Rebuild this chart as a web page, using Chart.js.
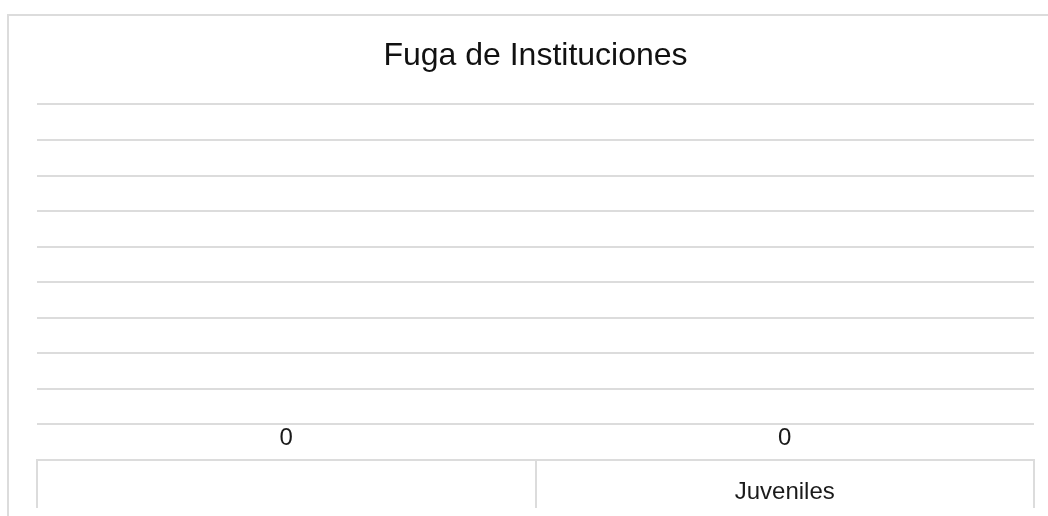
<!DOCTYPE html>
<html lang="es">
<head>
<meta charset="UTF-8">
<script src="https://cdn.jsdelivr.net/npm/chart.js"></script>
<title>Fuga de Instituciones</title>
<style>
  body { margin: 0; background: #fff; }
  .marco {
    position: absolute; left: 7px; top: 14px;
    width: 1100px; height: 600px;
    border: 2px solid #dcdcdc;
  }
  .lienzo { position: absolute; left: 0; top: 0; width: 1048px; height: 516px; }
</style>
</head>
<body>
<div class="marco"></div>
<div class="lienzo"><canvas id="fuga"></canvas></div>

<script>
const categorias = ['', 'Juveniles'];
const valores = [0, 0];
const titulo = 'Fuga de Instituciones';

const colorLinea = '#dcdcdc';
const fuente = '"Liberation Sans", Arial, sans-serif';

// etiqueta de valor debajo de cada barra
const etiquetas = {
  id: 'etiquetas',
  afterDatasetsDraw(chart) {
    const ctx = chart.ctx;
    const meta = chart.getDatasetMeta(0);
    ctx.save();
    ctx.font = '24px ' + fuente;
    ctx.fillStyle = '#1a1a1a';
    ctx.textAlign = 'center';
    ctx.textBaseline = 'middle';
    meta.data.forEach(function (barra, i) {
      ctx.fillText(String(valores[i]), barra.x, barra.y + 14);
    });
    ctx.restore();
  }
};

const config = {
  type: 'bar',
  data: {
    labels: categorias,
    datasets: [{
      label: titulo,
      data: valores,
      backgroundColor: '#4472c4'
    }]
  },
  options: {
    responsive: true,
    maintainAspectRatio: false,
    animation: false,
    layout: { padding: { left: 37, right: 14, top: 0, bottom: 8 } },
    plugins: {
      legend: { display: false },
      tooltip: { enabled: false },
      title: {
        display: true,
        text: titulo,
        color: '#111',
        font: { family: fuente, size: 32, weight: 'normal' },
        padding: { top: 37, bottom: 29 }
      }
    },
    scales: {
      y: {
        min: -1,
        max: 9,
        ticks: { display: false, stepSize: 1 },
        border: { display: false },
        grid: { color: colorLinea, lineWidth: 2, drawTicks: false }
      },
      x: {
        afterFit(escala) { escala.height = 48; },
        border: { color: colorLinea, width: 2 },
        grid: {
          offset: true,
          drawOnChartArea: false,
          color: colorLinea,
          lineWidth: 2,
          tickLength: 48
        },
        ticks: {
          color: '#1a1a1a',
          padding: -30,
          font: { family: fuente, size: 24 }
        }
      }
    }
  },
  plugins: [etiquetas]
};

const grafico = new Chart(document.getElementById('fuga'), config);
</script>
</body>
</html>
